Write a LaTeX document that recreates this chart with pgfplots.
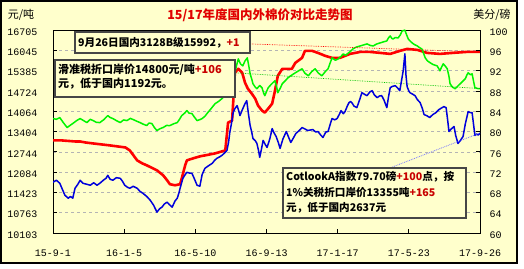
\documentclass[border=0pt]{standalone}
\usepackage{fontspec}
\setmainfont{Noto Sans CJK SC}
\newfontfamily\tickfont{Liberation Mono}
\usepackage{pgfplots}
\pgfplotsset{compat=1.18}
\definecolor{bg}{RGB}{255,255,204}
\definecolor{cred}{RGB}{255,0,0}
\definecolor{cgreen}{RGB}{0,245,0}
\definecolor{cblue}{RGB}{0,0,220}
\definecolor{dred}{RGB}{200,0,0}
\definecolor{ttl}{RGB}{225,0,0}
\definecolor{gridc}{RGB}{180,180,180}
\definecolor{boxc}{RGB}{70,70,70}
\begin{document}
\begin{tikzpicture}[x=1pt,y=1pt]
\fill[white] (0,0) rectangle (524,268);
\filldraw[fill=bg, draw=black, line width=1.6pt] (1,5) rectangle (517,267);
\begin{axis}[
 at={(53pt,35pt)}, anchor=south west, scale only axis, width=427pt, height=203pt,
 xmin=0, xmax=756, ymin=10103, ymax=16705,
 scaled x ticks=false, scaled y ticks=false,
 xtick={0,126,252,378,504,630,756},
 xticklabels={15-9-1,16-1-5,16-5-10,16-9-13,17-1-17,17-5-23,17-9-26},
 ytick={10103,10763.2,11423.4,12083.6,12743.8,13404,14064.2,14724.4,15384.6,16044.8,16705},
 yticklabels={10103,10763,11423,12084,12744,13404,14064,14724,15385,16045,16705},
 xtick pos=bottom, ytick pos=left, tick align=inside, major tick length=4pt,
 ymajorgrids, grid style={gridc, dash pattern=on 3pt off 3pt, line width=0.6pt},
 axis line style={black, line width=0.9pt},
 tick style={black, line width=0.8pt},
 ticklabel style={font=\tickfont\fontsize{10}{12}\selectfont},
 yticklabel style={xshift=-12pt, yshift=-2pt},
 xticklabel style={yshift=-13pt},
 axis background/.style={fill=bg},
]
\addplot[cred, line width=2.6pt, line join=round] coordinates {
(0,13113)(16,13113)(39,13080)(48,13080)(57,13048)(71,13016)(101,12951)(128,12886)(136,12789)
(149,12465)(158,12368)(166,12304)(184,12142)(195,11980)(202,11818)(207,11689)(216,11656)
(225,11689)(228,11883)(234,12304)(237,12465)(248,12530)(260,12595)(269,12627)(287,12692)
(305,12789)(310,13695)(317,13760)(319,14342)(322,15313)(328,15443)(335,15313)(340,14990)
(345,14796)(352,14634)(358,14472)(363,14249)(370,14084)(375,14019)(381,14148)(388,14310)
(393,14731)(398,15216)(406,15443)(423,15443)(429,15637)(441,15799)(446,16025)(459,16025)
(469,15961)(482,15864)(494,15799)(508,15799)(526,15928)(544,15993)(561,15993)(579,15961)
(597,15928)(614,16025)(627,16090)(645,16058)(662,15961)(685,15928)(708,15961)(733,15993)(756,15992)};
\addplot[cgreen, line width=1.5pt, line join=round] coordinates {
(0,13825)(6,13800)(12,13857)(18,13700)(25,13533)(30,13600)(35,13663)(42,13760)(48,13825)(54,13760)
(60,13695)(66,13800)(71,13760)(77,13700)(83,13695)(90,13790)(97,13922)(101,13860)(106,13825)
(112,13760)(119,13695)(125,13780)(131,13760)(137,13830)(142,13792)(148,13740)(154,13695)(160,13640)
(166,13598)(170,13680)(175,13663)(180,13520)(184,13436)(190,13500)(195,13533)(201,13600)(207,13598)
(213,13650)(220,13695)(224,13800)(228,13922)(233,14000)(237,14084)(241,14000)(246,13987)(250,13880)
(255,13760)(260,13790)(264,13825)(269,13900)(274,14019)(280,14150)(287,14310)(293,14380)(299,14472)
(304,14560)(310,14666)(314,14800)(317,14990)(320,15150)(322,15313)(325,15550)(328,15766)(332,15600)
(336,15540)(340,15700)(344,15799)(347,15500)(349,15281)(352,15100)(354,14958)(358,14850)(361,14796)
(366,14900)(370,14828)(373,14650)(375,14569)(378,14700)(381,14828)(387,14950)(393,15055)(396,14850)
(398,14666)(402,14800)(406,14958)(411,15050)(416,15152)(422,15230)(429,15313)(435,15380)(441,15443)
(446,15300)(452,15216)(458,15350)(464,15443)(470,15300)(476,15216)(482,15350)(487,15443)(490,15600)
(494,15799)(500,15720)(505,15766)(510,15850)(514,15928)(518,15880)(521,15928)(526,16000)(531,16090)
(537,16150)(544,16187)(550,16220)(556,16252)(562,16200)(567,16187)(573,16250)(579,16284)(585,16320)
(591,16349)(594,16450)(597,16511)(600,16430)(602,16414)(606,16460)(611,16446)(615,16550)(618,16673)
(623,16700)(626,16550)(629,16414)(632,16350)(636,16284)(640,16230)(645,16187)(649,16130)(653,16090)
(656,15950)(659,15799)(663,15700)(668,15637)(673,15580)(680,15540)(683,15450)(685,15378)(688,15500)
(691,15605)(695,15520)(698,15443)(701,15200)(703,14958)(707,14850)(712,14796)(716,14870)(721,14958)
(726,15050)(730,15120)(733,15250)(735,15313)(739,15250)(742,15281)(745,15000)(747,14828)(753,14796)(756,14800)};
\addplot[cred, densely dotted, line width=0.7pt] coordinates {(349,16252)(756,15992)};
\addplot[cgreen!80!black, densely dotted, line width=0.7pt] coordinates {(322,15313)(756,14800)};
\end{axis}
\begin{axis}[
 at={(53pt,35pt)}, anchor=south west, scale only axis, width=427pt, height=203pt,
 xmin=0, xmax=756, ymin=60, ymax=100,
 scaled y ticks=false,
 axis y line*=right, axis x line=none,
 ytick={60,64,68,72,76,80,84,88,92,96,100},
 yticklabels={60,64,68,72,76,80,84,88,92,96,100},
 tick align=inside, major tick length=4pt,
 axis line style={black, line width=0.9pt},
 tick style={black, line width=0.8pt},
 ticklabel style={font=\tickfont\fontsize{10}{12}\selectfont},
 yticklabel style={xshift=6pt, yshift=-2pt},
]
\addplot[cblue, line width=1.5pt, line join=round] coordinates {
(0,70.0)(6,70.4)(12,69.8)(17,68.5)(21,67.45)(27,66.86)(31,67.2)(35,66.86)(39,68.82)(44,69.6)(48,70.39)
(53,69.8)(60,69.6)(66,69.41)(72,69.9)(78,69.41)(84,69.9)(89,70.39)(94,70.8)(97,71.37)(101,70.6)
(106,70.39)(112,70.9)(119,70.78)(123,70.2)(127,69.41)(132,69.0)(136,68.82)(142,69.2)(149,68.82)
(154,68.2)(159,67.84)(166,67.2)(172,66.47)(178,65.5)(184,64.12)(189,64.8)(193,65.1)(197,65.7)
(202,66.08)(206,65.6)(211,65.1)(216,66.3)(220,66.86)(223,67.9)(225,68.82)(228,70.0)(230,70.78)
(234,71.5)(237,71.96)(242,71.8)(246,71.76)(251,70.5)(255,69.41)(260,69.22)(264,71.5)(269,72.75)
(276,73.3)(282,73.73)(286,74.3)(290,74.71)(295,75.0)(299,75.29)(304,75.8)(308,76.27)(311,78.0)
(313,79.8)(316,81.6)(319,83.73)(322,84.5)(326,85.1)(329,84.0)(331,83.14)(336,84.5)(340,85.49)
(343,86.08)(346,83.5)(349,81.18)(352,79.8)(354,78.63)(358,78.2)(361,77.65)(364,76.2)(366,74.9)
(369,76.5)(372,78.24)(376,77.4)(379,76.86)(384,78.6)(388,80.59)(391,79.8)(395,79.02)(399,77.8)
(402,76.67)(407,78.5)(413,80.0)(417,78.9)(421,77.84)(426,78.8)(430,79.61)(436,80.2)(441,80.78)
(446,80.5)(451,80.2)(456,80.3)(460,80.39)(465,79.9)(469,80.0)(474,79.3)(478,78.82)(483,79.9)
(487,80.0)(491,81.5)(494,82.55)(499,82.3)(503,82.55)(507,83.4)(510,84.12)(514,83.5)(517,83.92)
(521,85.0)(524,85.69)(527,85.9)(529,85.69)(533,85.0)(538,84.71)(543,86.3)(547,87.65)(552,87.3)
(556,87.06)(561,87.8)(565,88.04)(569,87.2)(574,86.67)(578,87.0)(582,87.06)(586,86.2)(591,84.71)
(594,86.8)(597,88.63)(601,88.9)(606,89.02)(610,88.6)(614,88.04)(617,90.0)(620,91.96)(623,95.3)
(625,91.0)(627,88.82)(630,88.0)(632,87.65)(636,87.4)(641,87.06)(645,86.3)(650,85.69)(654,84.5)
(657,83.33)(662,83.1)(667,82.75)(672,83.3)(678,83.73)(683,84.3)(689,84.71)(692,84.9)(696,84.71)
(699,82.0)(701,80.0)(705,80.5)(710,80.98)(713,79.2)(717,77.65)(721,78.2)(726,79.02)(730,81.5)
(735,83.92)(739,83.7)(742,83.73)(745,81.0)(747,79.22)(750,79.5)(753,79.3)(756,79.7)};
\addplot[blue!55, densely dotted, line width=0.8pt] coordinates {(595,72.75)(756,79.7)};
\end{axis}
% annotation boxes
\filldraw[fill=bg, draw=boxc, line width=1.2pt] (75,215) rectangle (250,236);
\node[anchor=west, inner sep=0pt, font=\bfseries\fontsize{10.6}{13}\selectfont] at (78,225.5)
 {9月26日国内3128B级15992，\textcolor{dred}{+1}};
\filldraw[fill=bg, draw=boxc, line width=1.2pt] (55,171) rectangle (235,208);
\node[anchor=west, inner sep=0pt, font=\bfseries\fontsize{11}{13}\selectfont] at (58,198)
 {滑准税折口岸价14800元/吨\textcolor{dred}{+106}};
\node[anchor=west, inner sep=0pt, font=\bfseries\fontsize{11}{13}\selectfont] at (58,184)
 {元，低于国内1192元。};
\filldraw[fill=bg, draw=boxc, line width=1.2pt] (283,50) rectangle (466,100);
\node[anchor=west, inner sep=0pt, font=\bfseries\fontsize{10.6}{13}\selectfont] at (286,91)
 {CotlookA指数79.70磅\textcolor{dred}{+100}点，按};
\node[anchor=west, inner sep=0pt, font=\bfseries\fontsize{10.6}{13}\selectfont] at (286,75)
 {1\%关税折口岸价13355吨\textcolor{dred}{+165}};
\node[anchor=west, inner sep=0pt, font=\bfseries\fontsize{10.6}{13}\selectfont] at (286,60)
 {元，低于国内2637元};
% titles
\node[font=\bfseries\fontsize{12.5}{14}\selectfont, text=ttl] at (260,253) {15/17年度国内外棉价对比走势图};
\node[font=\fontsize{11}{13}\selectfont] at (21,253) {元/吨};
\node[font=\fontsize{11}{13}\selectfont] at (492,253) {美分/磅};
\pgfresetboundingbox
\useasboundingbox (0,0) rectangle (524,268);
\end{tikzpicture}
\end{document}
